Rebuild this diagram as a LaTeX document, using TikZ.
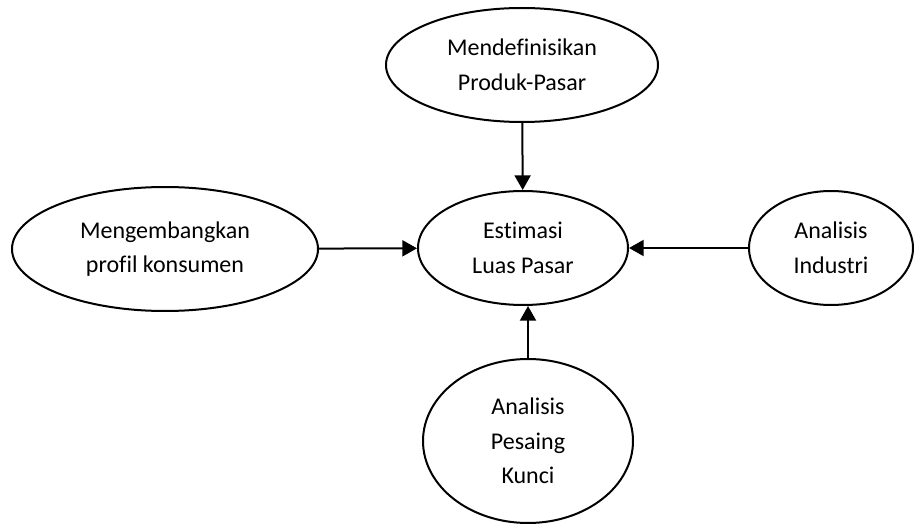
\documentclass[tikz,border=0pt]{standalone}
\usepackage{fontspec}
\setmainfont{Carlito}[Ligatures=NoCommon]
\usetikzlibrary{shapes.geometric,arrows.meta}
\begin{document}
\begin{tikzpicture}[x=0.75pt,y=-0.75pt,
  bubble/.style={ellipse,draw=black,line width=1.5pt,inner sep=0pt,align=center,
    font=\fontsize{18}{26}\selectfont},
  flow/.style={line width=1.5pt,-{Triangle[length=11pt,width=12pt]}}]
\useasboundingbox (0,0) rectangle (914,524);
\node[bubble,minimum width=204pt,minimum height=85.5pt] (top) at (522,65)
  {Mendefinisikan\\Produk-Pasar};
\node[bubble,minimum width=157.5pt,minimum height=85.5pt] (mid) at (523,248)
  {Estimasi\\Luas Pasar};
\node[bubble,minimum width=229.5pt,minimum height=93pt] (left) at (165,249)
  {Mengembangkan\\profil konsumen};
\node[bubble,minimum width=123pt,minimum height=85.5pt] (right) at (831,248)
  {Analisis\\Industri};
\node[bubble,minimum width=157.5pt,minimum height=123pt] (bottom) at (528,441)
  {Analisis\\Pesaing\\Kunci};
\draw[flow] (top) -- (mid);
\draw[flow] (left) -- (mid);
\draw[flow] (right) -- (mid);
\draw[flow] (bottom.north) -- (bottom.north |- mid.south);
\end{tikzpicture}
\end{document}
